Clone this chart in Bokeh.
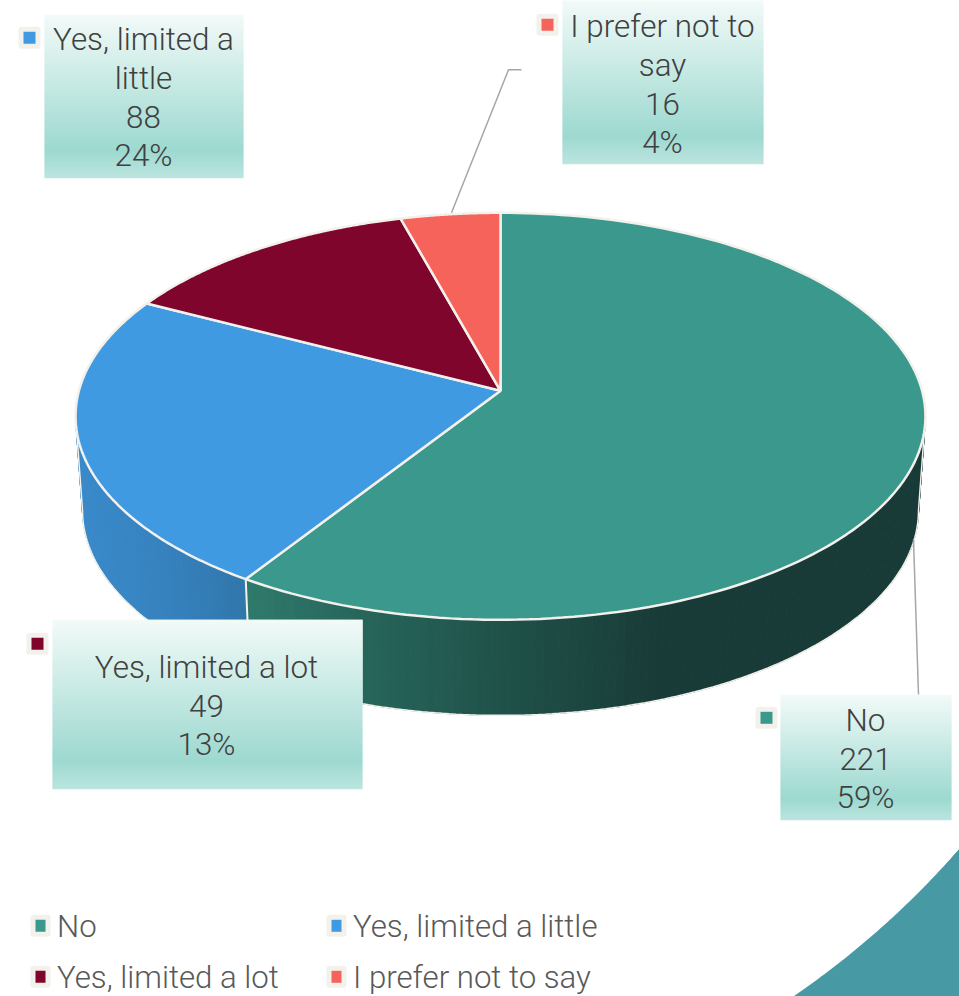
import numpy as np
from bokeh.plotting import figure
from bokeh.models import Range1d
from bokeh.core.properties import value
from bokeh.embed import file_html
from bokeh.resources import INLINE

categories = ["No", "Yes, limited a little", "Yes, limited a lot", "I prefer not to say"]
counts = [221, 88, 49, 16]
label_names = [["No"], ["Yes, limited a", "little"], ["Yes, limited a lot"], ["I prefer not to", "say"]]
face_colors = ["#3b988c", "#3f9ae2", "#7f052c", "#f6635a"]

W, H = 959, 996
FONT = value("Roboto Light")
INK = "#404040"
EDGE = "#f2f1ec"

# perspective of the pie disc
CX, CY = 500, 391
K, A, B = 0.1253, 200.3, 421.6
DEPTH_CY, DEPTH_A, DEPTH_B = 484.8, 201.8, 414.7

def proj(theta, cy=CY, a=A, b=B):
    d = 1 + K * np.cos(theta)
    return CX + b * np.sin(theta) / d, cy - a * np.cos(theta) / d

def lerp_color(stops, t):
    ts = [s[0] for s in stops]
    rgb = [np.interp(t, ts, [int(s[1][i:i+2], 16) for s in stops]) for i in (1, 3, 5)]
    return "#%02x%02x%02x" % tuple(int(round(v)) for v in rgb)

p = figure(width=W, height=H, output_backend="svg", toolbar_location=None,
           x_range=Range1d(0, W), y_range=Range1d(H + 0.7, 0.7), min_border=0)
p.axis.visible = False
p.grid.visible = False
p.outline_line_color = None
p.background_fill_color = "#ffffff"
p.border_fill_color = "#ffffff"

# corner decoration: the page's white disc leaves a teal corner
ang = np.radians(np.linspace(38, 58, 80))
p.patch(np.r_[295.5 + 880 * np.cos(ang), 760, 980, 980],
        np.r_[270.7 + 880 * np.sin(ang), 1010, 1010, 820],
        fill_color="#4799a4", fill_alpha=1.0, line_color=None)

total = sum(counts)
fr = np.cumsum([0] + counts) / total * 2 * np.pi
SIDE_LO, SIDE_HI = np.arccos(-K), 2 * np.pi - np.arccos(-K)

# side wall, built from the slices that face the viewer
wall_stops = {
    0: [(245, "#2f7a6c"), (360, "#27655b"), (500, "#1f5249"), (660, "#193b38"), (930, "#193b38")],
    1: [(75, "#3a8aca"), (160, "#3682bf"), (247, "#3076ab")],
}
xs, ys, cols = [], [], []
for i in (0, 1):
    lo, hi = max(fr[i], SIDE_LO), min(fr[i + 1], SIDE_HI)
    edges = np.linspace(lo, hi, int((hi - lo) / np.radians(1.0)) + 2)
    for a0, a1 in zip(edges[:-1], edges[1:]):
        th = np.linspace(a0, a1, 3)
        tx, ty = proj(th)
        bx, by = proj(th, DEPTH_CY, DEPTH_A, DEPTH_B)
        xs.append(np.r_[tx, bx[::-1]])
        ys.append(np.r_[ty, by[::-1]])
        cols.append(lerp_color(wall_stops[i], float(tx.mean())))
p.patches(xs, ys, fill_color=cols, fill_alpha=1.0, line_color=cols, line_width=1)

# bottom rim highlight, continued up both silhouette edges
rim = np.linspace(SIDE_LO, SIDE_HI, 200)
rx, ry = proj(rim, DEPTH_CY, DEPTH_A, DEPTH_B)
tlx, tly = proj(SIDE_LO)
thx, thy = proj(SIDE_HI)
p.line(np.r_[tlx, rx, thx], np.r_[tly, ry, thy], line_color=EDGE, line_width=1.5)
# slice seam on the wall
sx0, sy0 = proj(fr[1])
sx1, sy1 = proj(fr[1], DEPTH_CY, DEPTH_A, DEPTH_B)
p.line([sx0, sx1], [sy0, sy1], line_color=EDGE, line_width=2)

# top faces
fx, fy = [], []
for i in range(len(counts)):
    th = np.linspace(fr[i], fr[i + 1], 160)
    ax, ay = proj(th)
    fx.append(np.r_[CX, ax])
    fy.append(np.r_[CY, ay])
p.patches(fx, fy, fill_color=face_colors, fill_alpha=1.0, line_color=EDGE, line_width=2.5)

# leader lines
p.line([451, 508, 521], [213, 70, 70], line_color="#a6a6a6", line_width=1.5)
p.line([913, 918], [540, 695], line_color="#a6a6a6", line_width=1.5)

# label boxes: left, right, top, bottom, key x, key y, text x, first line y, line step
boxes = [
    (780, 951, 695, 820, 766, 718, 865, 721, 38.5),
    (44, 243, 15, 178, 29, 38, 143, 40, 38.7),
    (52, 362, 620, 789, 37, 644, 206, 668, 38.5),
    (562, 763, 0, 164, 547, 25, 662, 27, 38.5),
]
grad = [(0, "#f2faf8"), (0.83, "#9dd9d0"), (1, "#bce5df")]
for i, (l, r, tp, bt, kx, ky, tx, ty, step) in enumerate(boxes):
    p.quad(left=[l], right=[r], top=[tp], bottom=[bt], fill_color="#ffffff", fill_alpha=1.0, line_color=None)
    rows = np.arange(tp, bt)
    n = len(rows)
    p.quad(left=[l] * n, right=[r] * n, top=list(rows), bottom=list(rows + 1.5),
           fill_color=[lerp_color(grad, (y - tp) / (bt - tp)) for y in rows],
           fill_alpha=1.0, line_color=None)
    p.quad(left=[kx - 11], right=[kx + 11], top=[ky - 11], bottom=[ky + 11],
           fill_color=EDGE, fill_alpha=1.0, line_color=None, border_radius=3)
    p.quad(left=[kx - 6], right=[kx + 6], top=[ky - 6], bottom=[ky + 6],
           fill_color=face_colors[i], fill_alpha=1.0, line_color=None)
    lines = label_names[i] + [str(counts[i]), f"{round(counts[i] / total * 100)}%"]
    p.text(x=[tx] * len(lines), y=[ty + step * j for j in range(len(lines))], text=lines,
           text_font=FONT, text_font_size="31.4px", text_color=INK,
           text_align="center", text_baseline="middle")

# legend: key x, text x, y
legend_pos = [(40, 56.5, 926), (336, 352.5, 926), (40, 56.5, 977), (336, 352.5, 977)]
for i, (kx, tx, ky) in enumerate(legend_pos):
    p.quad(left=[kx - 10], right=[kx + 10], top=[ky - 11], bottom=[ky + 11],
           fill_color=EDGE, fill_alpha=1.0, line_color=None, border_radius=3)
    p.quad(left=[kx - 5], right=[kx + 5], top=[ky - 6], bottom=[ky + 6],
           fill_color=face_colors[i], fill_alpha=1.0, line_color=None)
    p.text(x=[tx], y=[ky + 1], text=[categories[i]], text_font=FONT, text_font_size="31.2px",
           text_color="#595959", text_align="left", text_baseline="middle")

open("out.html", "w").write(file_html(p, INLINE))
